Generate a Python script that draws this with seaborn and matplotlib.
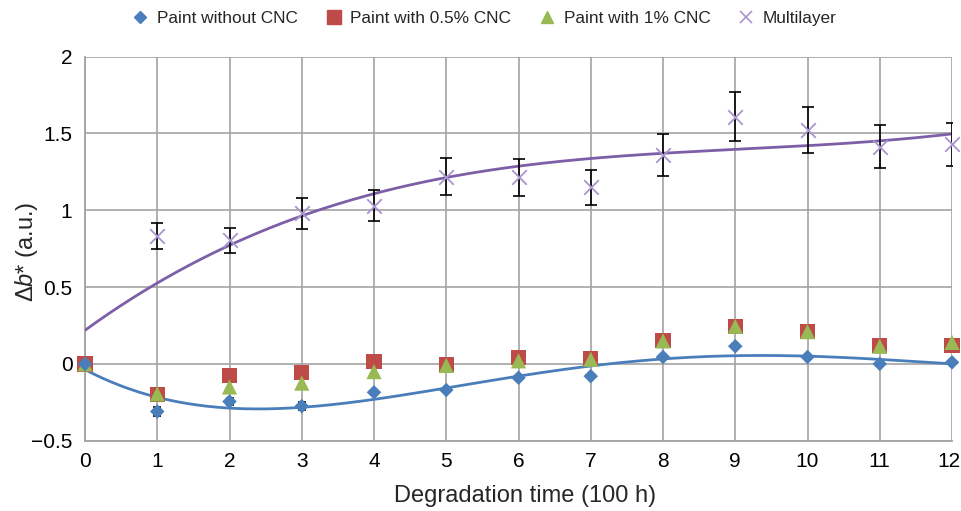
import numpy as np
import pandas as pd
import matplotlib
matplotlib.use("Agg")
import matplotlib.pyplot as plt
import matplotlib.transforms as mtransforms
import seaborn as sns
from matplotlib.lines import Line2D

# ---- data ----
time = [0, 1, 2, 3, 4, 5, 6, 7, 8, 9, 10, 11, 12]
no_cnc = [0, -0.31, -0.245, -0.275, -0.185, -0.17, -0.09, -0.08, 0.045, 0.115, 0.045, 0.0, 0.01]
no_cnc_err = [0, 0.03, 0.025, 0.027, 0.012, 0.01, 0.01, 0.01, 0.01, 0.01, 0.01, 0.01, 0.01]
cnc05 = [0, -0.20, -0.076, -0.054, 0.015, -0.004, 0.04, 0.033, 0.15, 0.245, 0.21, 0.12, 0.12]
cnc1 = [0, -0.195, -0.15, -0.125, -0.05, -0.01, 0.02, 0.03, 0.15, 0.245, 0.21, 0.115, 0.14]
multilayer = [0, 0.83, 0.805, 0.98, 1.03, 1.22, 1.215, 1.15, 1.36, 1.61, 1.52, 1.415, 1.43]
multilayer_err = [0, 0.085, 0.08, 0.1, 0.1, 0.12, 0.12, 0.115, 0.135, 0.16, 0.15, 0.14, 0.14]
labels = ["Paint without CNC", "Paint with 0.5% CNC", "Paint with 1% CNC", "Multilayer"]
xlabel = "Degradation time (100 h)"

sns.set_theme(style="white")
plt.rcParams["font.family"] = ["Liberation Sans", "DejaVu Sans"]
plt.rcParams["mathtext.fontset"] = "custom"
plt.rcParams["mathtext.rm"] = "Liberation Sans"
plt.rcParams["mathtext.it"] = "Liberation Sans:italic"

c_blue = "#4a7ebb"
c_red = "#be4b48"
c_green = "#98b954"
c_purple_line = "#7d5fa8"
c_purple_mk = "#a894cf"
grid_c = "#a3a3a3"

fig = plt.figure(figsize=(9.61, 5.11), dpi=100)
ax = fig.add_axes([85 / 961, 1 - 440.7 / 511, (952 - 85) / 961, (440.7 - 56.7) / 511])

df = pd.DataFrame({"t": time, "no": no_cnc, "c05": cnc05, "c1": cnc1, "ml": multilayer})

# trendlines (polynomial fits, like Excel)
xf = np.linspace(0, 12, 300)
fit_ml = np.polyval(np.polyfit(time, multilayer, 3), xf)
fit_no = np.polyval(np.polyfit(time, no_cnc, 4), xf)
sns.lineplot(x=xf, y=fit_ml, ax=ax, color=c_purple_line, lw=2.0, zorder=3)
sns.lineplot(x=xf, y=fit_no, ax=ax, color=c_blue, lw=2.0, zorder=3)

# error bars
ax.errorbar(time[1:], multilayer[1:], yerr=multilayer_err[1:], fmt="none", ecolor="black",
            elinewidth=1.2, capsize=4, capthick=1.2, zorder=4)
ax.errorbar(time[1:], no_cnc[1:], yerr=no_cnc_err[1:], fmt="none", ecolor="black",
            elinewidth=1.2, capsize=3, capthick=1.2, zorder=4)

kw = dict(ax=ax, legend=False, clip_on=False)
sns.scatterplot(data=df, x="t", y="ml", marker="x", s=110, color=c_purple_mk, linewidth=1.3, zorder=5, **kw)
sns.scatterplot(data=df, x="t", y="c05", marker="s", s=120, color=c_red, edgecolor="none", zorder=5, **kw)
sns.scatterplot(data=df, x="t", y="c1", marker="^", s=120, color=c_green, edgecolor="none", zorder=6, **kw)
sns.scatterplot(data=df, x="t", y="no", marker="D", s=55, color=c_blue, edgecolor="none", zorder=7, **kw)

ax.set_xlim(0, 12)
ax.set_ylim(-0.5, 2)
ax.set_xticks(time)
ax.set_yticks([-0.5, 0, 0.5, 1, 1.5, 2])
ax.set_yticklabels(["\u22120.5", "0", "0.5", "1", "1.5", "2"])
ax.grid(True, color=grid_c, lw=1.2)
ax.set_axisbelow(True)
for s in ax.spines.values():
    s.set_visible(False)
ax.spines["left"].set_visible(True)
ax.spines["bottom"].set_visible(True)
ax.spines["left"].set_color(grid_c)
ax.spines["bottom"].set_color(grid_c)
ax.spines["left"].set_linewidth(1.3)
ax.spines["bottom"].set_linewidth(1.3)
ax.tick_params(axis="both", length=0, labelsize=15, colors="black")
ax.tick_params(axis="x", pad=8)
ax.tick_params(axis="y", pad=9)

# nudge the last x tick label so it stays inside the figure
last = ax.get_xticklabels()[-1]
last.set_transform(last.get_transform() + mtransforms.ScaledTranslation(-3 / 100, 0, fig.dpi_scale_trans))

ax.set_xlabel(xlabel, fontsize=17)
ax.xaxis.set_label_coords(0.508, -0.115)
ax.set_ylabel(r"$\Delta\mathit{b}$* (a.u.)", fontsize=17)
ax.yaxis.set_label_coords(-0.052, 0.493)

handles = [
    Line2D([], [], marker="D", ls="none", color=c_blue, markersize=6),
    Line2D([], [], marker="s", ls="none", color=c_red, markersize=10),
    Line2D([], [], marker="^", ls="none", color=c_green, markersize=9),
    Line2D([], [], marker="x", ls="none", color=c_purple_mk, markersize=9, mew=1.2),
]
fig.legend(handles, labels, loc="center", bbox_to_anchor=(0.503, 0.964), ncol=4, frameon=False,
           fontsize=12.4, handletextpad=0.35, columnspacing=1.5, handlelength=1.2)

fig.savefig("out.png", dpi=100)
